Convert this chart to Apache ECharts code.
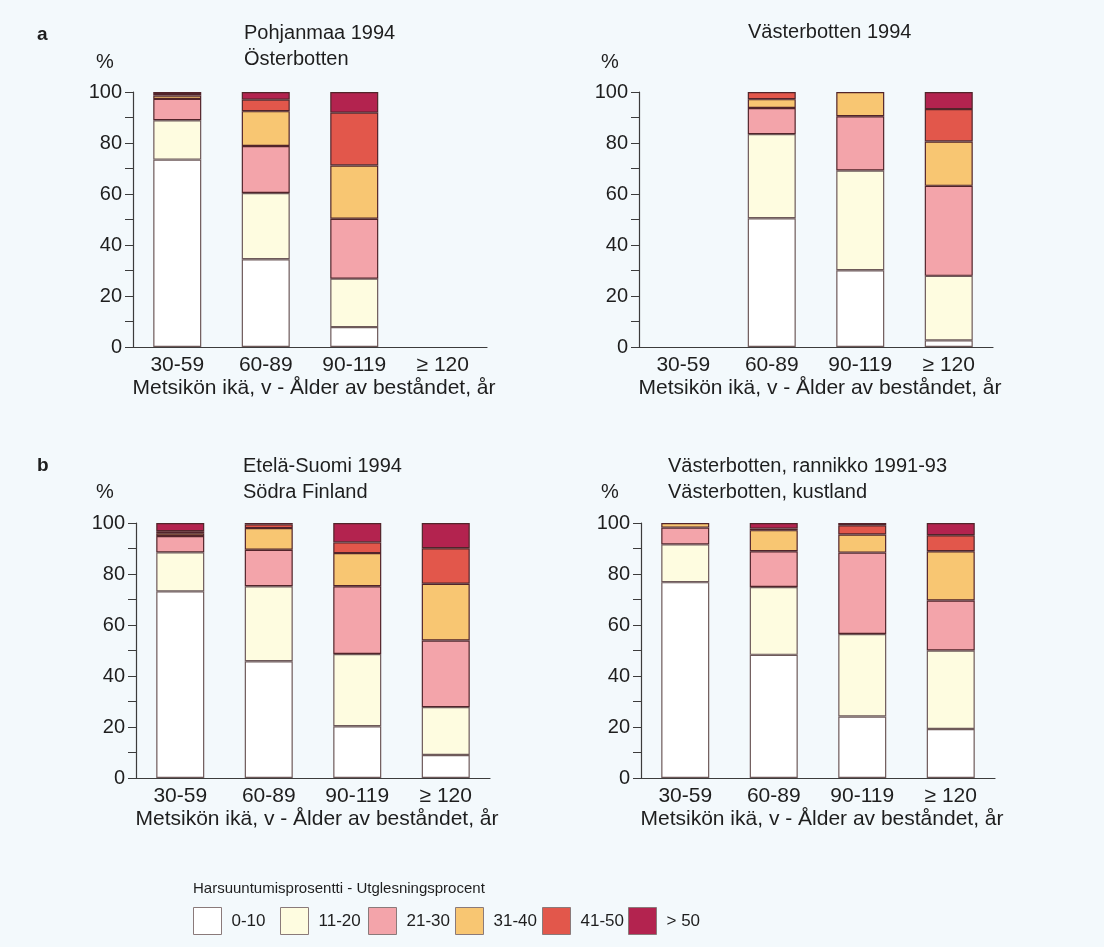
<!DOCTYPE html>
<html>
<head>
<meta charset="utf-8">
<title>Harsuuntumisprosentti</title>
<script src="https://cdn.jsdelivr.net/npm/echarts@6/dist/echarts.min.js"></script>
<style>
  html, body { margin: 0; padding: 0; background: #f3f9fc; }
  #chart { width: 1104px; height: 947px; }
</style>
</head>
<body>
<div id="chart"></div>
<script>
// luokat (x-akseli)
const ageClasses = ['30-59', '60-89', '90-119', '≥ 120'];
// harsuuntumisluokat
const defoliationClasses = ['0-10', '11-20', '21-30', '31-40', '41-50', '> 50'];
const classColors = ['#ffffff', '#fefce0', '#f3a4aa', '#f8c672', '#e2574b', '#b3234f'];

// osuudet (%) luokittain, rivi = harsuuntumisluokka, sarake = ikäluokka
const pohjanmaa1994 = [
  [73.5, 34.4, 7.8, null],
  [15.4, 26.0, 19.0, null],
  [8.4, 18.4, 23.5, null],
  [1.3, 13.7, 20.9, null],
  [0.6, 4.5, 20.7, null],
  [0.8, 3.0, 8.1, null]
];
const vasterbotten1994 = [
  [null, 50.5, 30.1, 2.6],
  [null, 33.0, 39.1, 25.3],
  [null, 10.2, 21.3, 35.3],
  [null, 3.5, 9.5, 17.4],
  [null, 2.8, null, 12.7],
  [null, null, null, 6.7]
];
const etelaSuomi1994 = [
  [73.2, 45.8, 20.3, 9.0],
  [15.3, 29.4, 28.3, 18.8],
  [6.4, 14.3, 26.6, 26.1],
  [1.1, 8.5, 13.0, 22.3],
  [0.8, 1.5, 4.2, 13.9],
  [3.2, 0.5, 7.6, 9.9]
];
const vasterbottenRannikko = [
  [76.8, 48.3, 24.1, 19.2],
  [14.8, 26.6, 32.4, 30.8],
  [6.6, 14.0, 31.9, 19.6],
  [1.8, 8.3, 7.1, 19.3],
  [null, 0.6, 3.6, 6.3],
  [null, 2.2, 0.9, 4.8]
];

const yTicks = [0, 20, 40, 60, 80, 100];

const FONT = '"Liberation Sans", Arial, sans-serif';
const TEXT = '#1e1e1e';
const AXIS = '#3c3c3c';

// paneelien sijainnit
const panels = [
  { data: pohjanmaa1994, left: 133, top: 92 },
  { data: vasterbotten1994, left: 639, top: 92 },
  { data: etelaSuomi1994, left: 136, top: 523 },
  { data: vasterbottenRannikko, left: 641, top: 523 }
];

const grids = panels.map(p => ({ left: p.left, top: p.top, width: 354, height: 255 }));

const xAxes = panels.map((p, i) => ({
  type: 'category',
  gridIndex: i,
  data: ageClasses,
  axisLine: { lineStyle: { color: AXIS, width: 1.2 } },
  axisTick: { show: false },
  axisLabel: { color: TEXT, fontSize: 21, fontFamily: FONT, margin: 8 },
  name: 'Metsikön ikä, v - Ålder av beståndet, år',
  nameLocation: 'middle',
  nameGap: 31,
  nameTextStyle: { color: TEXT, fontSize: 21, fontFamily: FONT, verticalAlign: 'top', padding: [0, 0, 0, 8] }
}));

const yAxes = panels.map((p, i) => ({
  type: 'value',
  gridIndex: i,
  min: 0,
  max: 100,
  interval: 10,
  splitLine: { show: false },
  axisLine: { show: true, lineStyle: { color: AXIS, width: 1.2 } },
  axisTick: { show: true, length: 8, lineStyle: { color: AXIS } },
  axisLabel: {
    color: TEXT, fontSize: 20, fontFamily: FONT, margin: 11,
    formatter: v => (yTicks.includes(v) ? String(v) : '')
  }
}));

const series = [];
panels.forEach((p, gi) => {
  defoliationClasses.forEach((name, ci) => {
    series.push({
      name: name,
      type: 'bar',
      xAxisIndex: gi,
      yAxisIndex: gi,
      stack: 'panel' + gi,
      barWidth: 48,
      data: p.data[ci],
      itemStyle: {
        color: classColors[ci],
        borderColor: ci < 2 ? '#6e5a5a' : '#52242a',
        borderWidth: 1.2
      },
      emphasis: { disabled: true }
    });
  });
});

const titleStyle = { color: TEXT, fontSize: 20, fontFamily: FONT, fontWeight: 'normal', lineHeight: 26 };
const titles = [
  { text: 'a', left: 37, top: 25, textStyle: { color: TEXT, fontSize: 19, fontFamily: FONT, fontWeight: 'bold' } },
  { text: 'b', left: 37, top: 456, textStyle: { color: TEXT, fontSize: 19, fontFamily: FONT, fontWeight: 'bold' } },
  { text: 'Pohjanmaa 1994\nÖsterbotten', left: 244, top: 20, textStyle: titleStyle },
  { text: 'Västerbotten 1994', left: 748, top: 19, textStyle: titleStyle },
  { text: 'Etelä-Suomi 1994\nSödra Finland', left: 243, top: 453, textStyle: titleStyle },
  { text: 'Västerbotten, rannikko 1991-93\nVästerbotten, kustland', left: 668, top: 453, textStyle: titleStyle },
  { text: '%', left: 96, top: 49, textStyle: titleStyle },
  { text: '%', left: 601, top: 49, textStyle: titleStyle },
  { text: '%', left: 96, top: 479, textStyle: titleStyle },
  { text: '%', left: 601, top: 479, textStyle: titleStyle },
  { text: 'Harsuuntumisprosentti - Utglesningsprocent', left: 193, top: 881,
    textStyle: { color: TEXT, fontSize: 15, fontFamily: FONT, fontWeight: 'normal' } }
].map(t => Object.assign({ padding: 0 }, t));

// selite: yksi legend-komponentti jokaiselle luokalle
const legendLeft = [193, 280, 368, 455, 542, 628];
const legends = defoliationClasses.map((name, i) => ({
  data: [name],
  left: legendLeft[i],
  top: 907,
  padding: 0,
  icon: 'rect',
  itemWidth: 28,
  itemHeight: 27,
  itemGap: 0,
  selectedMode: false,
  itemStyle: { borderColor: '#8a7a7a', borderWidth: 1 },
  textStyle: { color: TEXT, fontSize: 17, fontFamily: FONT, padding: [0, 0, 0, 5] }
}));

const chart = echarts.init(document.getElementById('chart'));
chart.setOption({
  backgroundColor: '#f3f9fc',
  animation: false,
  title: titles,
  legend: legends,
  grid: grids,
  xAxis: xAxes,
  yAxis: yAxes,
  series: series
});
</script>
</body>
</html>
